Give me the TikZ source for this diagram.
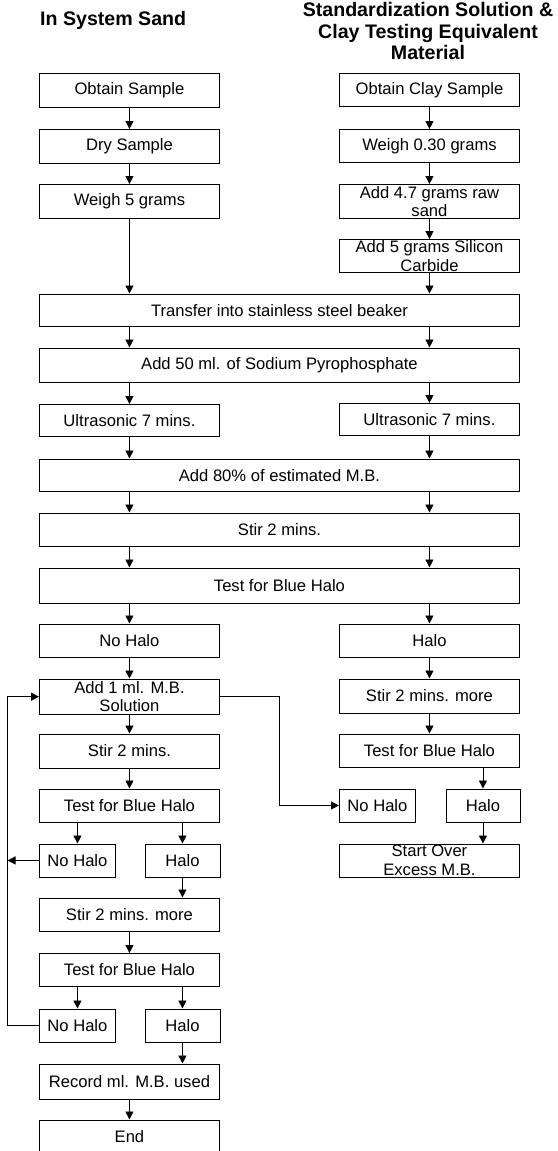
\documentclass[tikz,border=0pt]{standalone}
\usepackage{fontspec}
\setmainfont{Liberation Sans}
\usetikzlibrary{arrows.meta}
\begin{document}
\begin{tikzpicture}[x=1pt,y=1pt,
  box/.style={draw=black, line width=0.9pt, inner sep=0pt, anchor=north west, align=center,
    font=\fontsize{16.6}{18.6}\selectfont},
  arr/.style={draw=black, line width=0.9pt, -{Triangle[length=8pt,width=8pt]}},
  ttl/.style={inner sep=0pt, align=center, font=\fontsize{19.6}{21.7}\selectfont\bfseries}]
\path[use as bounding box, clip] (0,0) rectangle (557,-1151);
\newcommand\bx[6]{\node[box, minimum width=#4pt, minimum height=#5pt] (#1) at (#2,-#3) {#6};}
% titles
\node[ttl, anchor=base west] (t1) at (40,-25) {In System Sand};
\node[ttl, anchor=north] (t2) at (428,-2) {Standardization Solution \&\\Clay Testing Equivalent\\Material};
% left column
\bx{obtain}{39}{73}{180}{34}{Obtain Sample}
\bx{dry}{39}{129}{180}{34}{Dry Sample}
\bx{weigh5}{39}{184}{180}{34}{Weigh 5 grams}
% right column
\bx{obtainclay}{339}{73}{180}{33}{Obtain Clay Sample}
\bx{weigh030}{339}{129}{180}{33}{Weigh 0.30 grams}
\bx{add47}{339}{184}{180}{34}{Add 4.7 grams raw\\sand}
\bx{add5}{339}{239}{180}{33}{Add 5 grams Silicon\\Carbide}
% shared steps
\bx{transfer}{39}{293.5}{480}{32.5}{Transfer into stainless steel beaker}
\bx{add50}{39}{347.5}{480}{34}{Add 50 ml. of Sodium Pyrophosphate}
\bx{usL}{39}{404}{180}{32}{Ultrasonic 7 mins.}
\bx{usR}{339}{403}{180}{32}{Ultrasonic 7 mins.}
\bx{add80}{39}{458.5}{480}{32.5}{Add 80\% of estimated M.B.}
\bx{stir}{39}{512.5}{480}{33.5}{Stir 2 mins.}
\bx{test}{39}{567.5}{480}{35}{Test for Blue Halo}
\bx{nohaloA}{39}{623.5}{180}{33}{No Halo}
\bx{haloA}{339}{623.5}{180}{33}{Halo}
\bx{add1}{39}{678.5}{180}{35.5}{Add 1 ml. M.B.\\Solution}
\bx{stirmoreR}{339}{678.5}{180}{34}{Stir 2 mins. more}
\bx{stir2L}{39}{733.5}{180}{34}{Stir 2 mins.}
\bx{testR}{339}{733.5}{180}{33}{Test for Blue Halo}
\bx{testL}{39}{788.5}{180}{33}{Test for Blue Halo}
\bx{nohaloR}{339}{788.5}{76}{33}{No Halo}
\bx{haloR}{445.5}{788.5}{74}{33}{Halo}
\bx{nohaloL1}{39}{843.5}{76}{33}{No Halo}
\bx{haloL1}{144.5}{843.5}{75}{33}{Halo}
\bx{startover}{339}{843.5}{180}{33}{Start Over\\Excess M.B.}
\bx{stirmoreL}{39}{897.5}{180}{33}{Stir 2 mins. more}
\bx{testL2}{39}{953}{180}{33}{Test for Blue Halo}
\bx{nohaloL2}{39}{1008.5}{76}{33}{No Halo}
\bx{haloL2}{144.5}{1008.5}{75}{33}{Halo}
\bx{record}{39}{1063.5}{180}{35}{Record ml. M.B. used}
\bx{end}{39}{1119.5}{180}{34}{End}
\coordinate (loopx) at (7.5,0);
\coordinate (midx) at (279.5,0);
% connectors
\draw[arr] (obtain.south) -- (dry.north);
\draw[arr] (dry.south) -- (weigh5.north);
\draw[arr] (weigh5.south) -- (weigh5.south |- transfer.north);
\draw[arr] (obtainclay.south) -- (weigh030.north);
\draw[arr] (weigh030.south) -- (add47.north);
\draw[arr] (add47.south) -- (add5.north);
\draw[arr] (add5.south) -- (add5.south |- transfer.north);
\draw[arr] (obtain.south |- transfer.south) -- (obtain.south |- add50.north);
\draw[arr] (add5.south |- transfer.south) -- (add5.south |- add50.north);
\draw[arr] (usL.north |- add50.south) -- (usL.north);
\draw[arr] (usR.north |- add50.south) -- (usR.north);
\draw[arr] (usL.south) -- (usL.south |- add80.north);
\draw[arr] (usR.south) -- (usR.south |- add80.north);
\draw[arr] (usL.south |- add80.south) -- (usL.south |- stir.north);
\draw[arr] (usR.south |- add80.south) -- (usR.south |- stir.north);
\draw[arr] (usL.south |- stir.south) -- (usL.south |- test.north);
\draw[arr] (usR.south |- stir.south) -- (usR.south |- test.north);
\draw[arr] (nohaloA.north |- test.south) -- (nohaloA.north);
\draw[arr] (haloA.north |- test.south) -- (haloA.north);
\draw[arr] (nohaloA.south) -- (add1.north);
\draw[arr] (haloA.south) -- (stirmoreR.north);
\draw[arr] (add1.south) -- (stir2L.north);
\draw[arr] (stirmoreR.south) -- (testR.north);
\draw[arr] (stir2L.south) -- (testL.north);
\draw[arr] (haloR.north |- testR.south) -- (haloR.north);
\draw[arr] (haloR.south) -- (haloR.south |- startover.north);
\draw[arr] (add1.east) -- (add1.east -| midx) |- (nohaloR.west);
\draw[arr] (nohaloL1.north |- testL.south) -- (nohaloL1.north);
\draw[arr] (haloL1.north |- testL.south) -- (haloL1.north);
\draw[arr] (haloL1.south) -- (haloL1.south |- stirmoreL.north);
\draw[arr] (stirmoreL.south) -- (testL2.north);
\draw[arr] (nohaloL2.north |- testL2.south) -- (nohaloL2.north);
\draw[arr] (haloL2.north |- testL2.south) -- (haloL2.north);
\draw[arr] (haloL2.south) -- (haloL2.south |- record.north);
\draw[arr] (record.south) -- (end.north);
\draw[arr] (nohaloL1.west) -- (nohaloL1.west -| loopx);
\draw[arr] (nohaloL2.west) -- (nohaloL2.west -| loopx) |- (add1.west);
\end{tikzpicture}
\end{document}
